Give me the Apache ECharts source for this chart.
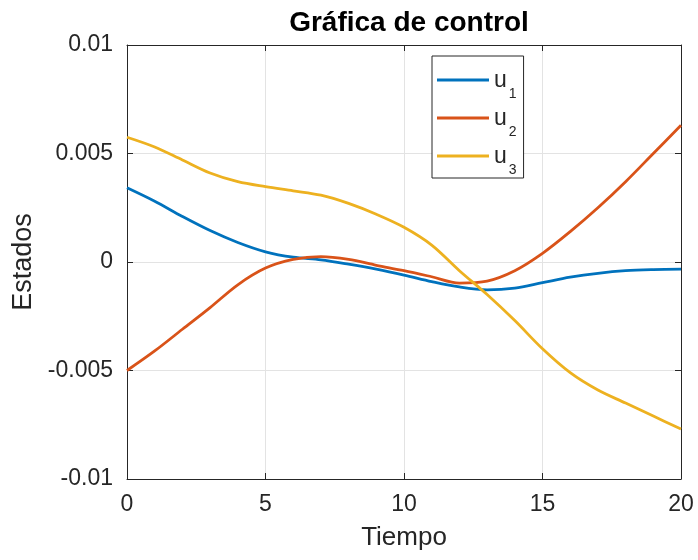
<!DOCTYPE html>
<html>
<head>
<meta charset="utf-8">
<script src="https://cdn.jsdelivr.net/npm/echarts@6/dist/echarts.min.js"></script>
<style>
html,body{margin:0;padding:0;background:#fff;}
#chart{width:698px;height:560px;}
</style>
</head>
<body>
<div id="chart"></div>
<script>
var tiempo = [0,1,2,3,4,5,6,7,8,9,10,11,12,13,14,15,16,17,18,19,20];
var u1 = [0.00342,0.0028,0.0021,0.00145,0.0009,0.00047,0.00022,0.0001,-0.0001,-0.00033,-0.0006,-0.0009,-0.00115,-0.00128,-0.0012,-0.00095,-0.0007,-0.00052,-0.0004,-0.00035,-0.00033];
var u2 = [-0.005,-0.0041,-0.0031,-0.0021,-0.00105,-0.00028,0.00012,0.00025,0.00012,-0.00015,-0.0004,-0.00068,-0.00097,-0.00088,-0.0004,0.0004,0.0014,0.0025,0.0037,0.005,0.0063];
var u3 = [0.00575,0.0053,0.0047,0.0041,0.0037,0.00347,0.00328,0.00308,0.0027,0.0022,0.0016,0.00078,-0.0004,-0.0015,-0.0027,-0.004,-0.0051,-0.0059,-0.0065,-0.0071,-0.0077];
var names = ['u1','u2','u3'];
var colors = ['#0072BD','#D95319','#EDB120'];

function pairs(ys){ return tiempo.map(function(x,i){ return [x, ys[i]]; }); }

var FONT = 'Liberation Sans';
var AX = '#262626';
var chart = echarts.init(document.getElementById('chart'), null, {renderer:'canvas'});
var seriesData = [u1,u2,u3];
chart.setOption({
  animation:false,
  backgroundColor:'#fff',
  title:{text:'Gráfica de control', left:404, top:4, textAlign:'center',
    textStyle:{fontFamily:FONT, fontWeight:'bold', fontSize:28, color:'#000'}},
  grid:{left:127, right:17, top:45, bottom:81, containLabel:false},
  legend:{
    orient:'vertical', left:432, top:56, padding:[13,7,1,5], itemGap:6,
    itemWidth:52, itemHeight:3, borderColor:AX, borderWidth:1, backgroundColor:'#fff',
    icon:'rect',
    data:names,
    formatter:function(n){ return '{b|u}{s|' + n.slice(1) + '}'; },
    textStyle:{fontFamily:FONT, color:'#262626', rich:{
      b:{fontFamily:FONT, fontSize:23, color:'#262626', verticalAlign:'bottom', lineHeight:24},
      s:{fontFamily:FONT, fontSize:14, color:'#262626', verticalAlign:'bottom', padding:[0,0,-9,2], lineHeight:14}
    }}
  },
  xAxis:[{
    type:'value', min:0, max:20, interval:5, position:'bottom',
    name:'Tiempo', nameLocation:'middle', nameGap:46,
    nameTextStyle:{fontFamily:FONT, fontSize:26, color:'#262626'},
    axisLine:{onZero:false, lineStyle:{color:AX, width:1}},
    axisTick:{inside:true, length:6, lineStyle:{color:AX}},
    axisLabel:{fontFamily:FONT, fontSize:23, color:'#262626', margin:14},
    splitLine:{show:true, lineStyle:{color:'#e3e3e3', width:1}}
  },{
    type:'value', min:0, max:20, interval:5, position:'top',
    axisLine:{onZero:false, lineStyle:{color:AX, width:1}},
    axisTick:{inside:true, length:6, lineStyle:{color:AX}},
    axisLabel:{show:false}, splitLine:{show:false}
  }],
  yAxis:[{
    type:'value', min:-0.01, max:0.01, interval:0.005, position:'left',
    name:'Estados', nameLocation:'middle', nameGap:88,
    nameTextStyle:{fontFamily:FONT, fontSize:27, color:'#262626'},
    axisLine:{show:true, onZero:false, lineStyle:{color:AX, width:1}},
    axisTick:{show:true, inside:true, length:6, lineStyle:{color:AX}},
    axisLabel:{fontFamily:FONT, fontSize:23, color:'#262626', margin:14},
    splitLine:{show:true, lineStyle:{color:'#e3e3e3', width:1}}
  },{
    type:'value', min:-0.01, max:0.01, interval:0.005, position:'right',
    axisLine:{show:true, onZero:false, lineStyle:{color:AX, width:1}},
    axisTick:{show:true, inside:true, length:6, lineStyle:{color:AX}},
    axisLabel:{show:false}, splitLine:{show:false}
  }],
  series: names.map(function(n,i){
    return {name:n, type:'line', xAxisIndex:0, yAxisIndex:0, data:pairs(seriesData[i]),
      smooth:0.33, showSymbol:false, symbol:'none',
      lineStyle:{color:colors[i], width:2.8}, itemStyle:{color:colors[i]}};
  })
});
</script>
</body>
</html>
